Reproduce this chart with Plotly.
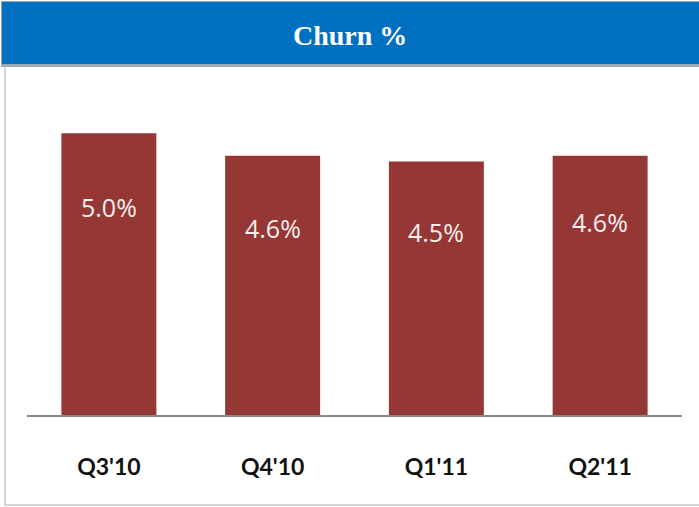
import plotly.graph_objects as go

categories = ["Q3'10", "Q4'10", "Q1'11", "Q2'11"]
churn = [5.0, 4.6, 4.5, 4.6]
value_labels = ["5.0%", "4.6%", "4.5%", "4.6%"]
label_shift = [-74, -72, -70, -66]
title_text = "Churn %"

W, H = 699, 507
ml, mr, mt, mb = 27, 17, 77, 92
pw, ph = W - ml - mr, H - mt - mb

def px(x):
    return (x - ml) / pw

def py(y):
    return (H - mb - y) / ph

fig = go.Figure()
fig.add_trace(go.Bar(
    x=categories, y=churn,
    marker=dict(color="#953735", line=dict(width=0)),
    hoverinfo="skip",
))

for c, v, t, s in zip(categories, churn, value_labels, label_shift):
    fig.add_annotation(x=c, y=v, text=t, showarrow=False, yshift=s,
                       font=dict(family="Open Sans", size=25, color="#fbeeee"))

shapes = [
    dict(type="rect", xref="paper", yref="paper", x0=px(5), x1=px(710), y0=py(505), y1=py(66),
         line=dict(color="#c8c8c8", width=1.5), fillcolor="white", layer="below"),
    dict(type="rect", xref="paper", yref="paper", x0=px(1), x1=px(700), y0=py(67), y1=py(1),
         line=dict(width=0), fillcolor="#9aa9b3", layer="below"),
    dict(type="rect", xref="paper", yref="paper", x0=px(2), x1=px(700), y0=py(64), y1=py(2),
         line=dict(width=0), fillcolor="#0070C0", layer="below"),
]

fig.add_annotation(xref="paper", yref="paper", x=px(350), y=py(35), xanchor="center", yanchor="middle",
                   text="<b>" + title_text + "</b>",
                   showarrow=False, font=dict(family="Liberation Serif", size=28, color="white"))

fig.update_layout(
    width=W, height=H,
    margin=dict(l=ml, r=mr, t=mt, b=mb),
    paper_bgcolor="white", plot_bgcolor="white",
    bargap=0.42,
    showlegend=False,
    shapes=shapes,
    xaxis=dict(showline=True, linecolor="#8a8a8a", linewidth=2, showgrid=False, ticks="",
               ticklabelstandoff=30,
               tickfont=dict(family="Lato", size=23, color="#111111", weight="bold")),
    yaxis=dict(range=[0, 6], visible=False, showgrid=False, zeroline=False),
)

fig.write_html("out.html", config={"displayModeBar": False})
with open("out.html", encoding="utf-8") as f:
    html = f.read()
html = html.replace("<head>", "<head><style>html,body{margin:0;padding:0;overflow:hidden}</style>", 1)
with open("out.html", "w", encoding="utf-8") as f:
    f.write(html)
